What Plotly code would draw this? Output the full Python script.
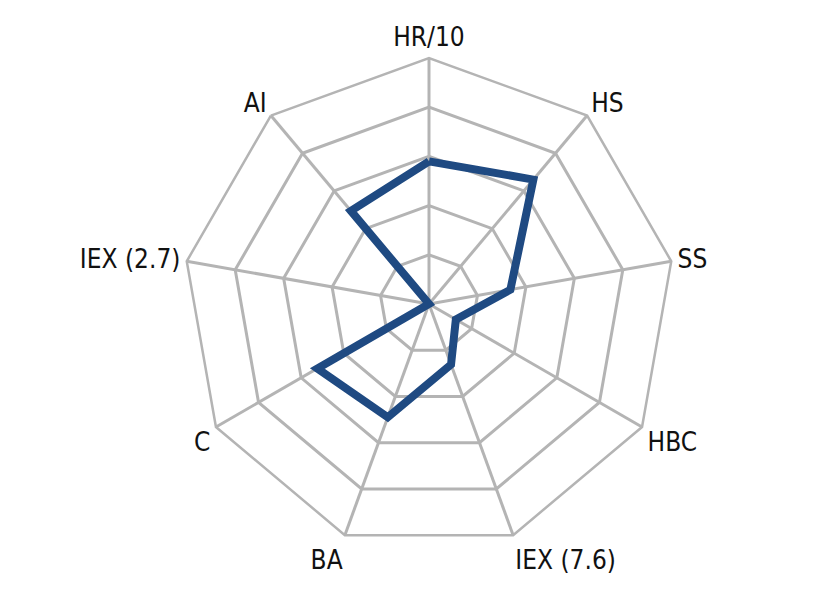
import plotly.graph_objects as go

categories = ["HR/10", "HS", "SS", "HBC", "IEX (7.6)", "BA", "C", "IEX (2.7)", "AI"]
values = [2.9, 3.3, 1.68, 0.63, 1.31, 2.45, 2.62, 0.0, 2.47]

theta = categories + [categories[0]]
r = values + [values[0]]

fig = go.Figure()
fig.add_trace(go.Scatterpolar(
    r=r, theta=theta, mode="lines",
    line=dict(color="#1F4A82", width=8),
    hoverinfo="skip", showlegend=False,
))

grid = "#B4B4B4"
fig.update_layout(
    width=832, height=602,
    margin=dict(l=0, r=0, t=0, b=0),
    paper_bgcolor="white",
    font=dict(family="DejaVu Sans Condensed, Roboto, sans-serif", size=26, color="#111111"),
    polar=dict(
        domain=dict(x=[175/832, 667/832], y=[60/602, 552/602]),
        bgcolor="white",
        gridshape="linear",
        radialaxis=dict(range=[0, 5], dtick=1, showticklabels=False, ticks="",
                        showline=False, gridcolor=grid, gridwidth=2.5),
        angularaxis=dict(rotation=90, direction="clockwise", ticks="",
                         showline=True, linecolor=grid, linewidth=2.5,
                         gridcolor=grid, gridwidth=2.5,
                         tickfont=dict(size=26)),
    ),
)
fig.write_html("out.html")
